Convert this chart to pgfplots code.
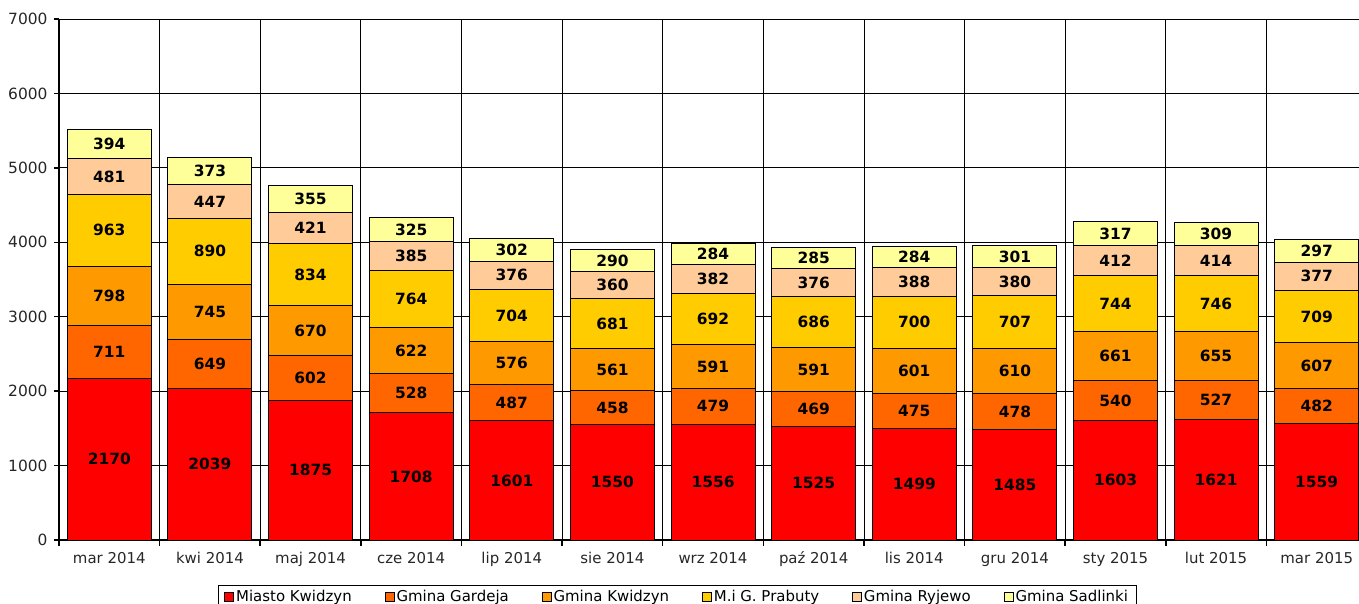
\documentclass[border=0pt]{standalone}
\usepackage{pgfplots}
\pgfplotsset{compat=1.18}
\usepackage{pgfplotstable}
\usepackage{fontspec}
\setmainfont{DejaVu Sans}
\definecolor{cA}{HTML}{FF0000}
\definecolor{cB}{HTML}{FF6600}
\definecolor{cC}{HTML}{FF9900}
\definecolor{cD}{HTML}{FFCC00}
\definecolor{cE}{HTML}{FFCC99}
\definecolor{cF}{HTML}{FFFF99}
\pgfplotstableread{
x A B C D E F
0 2170 711 798 963 481 394
1 2039 649 745 890 447 373
2 1875 602 670 834 421 355
3 1708 528 622 764 385 325
4 1601 487 576 704 376 302
5 1550 458 561 681 360 290
6 1556 479 591 692 382 284
7 1525 469 591 686 376 285
8 1499 475 601 700 388 284
9 1485 478 610 707 380 301
10 1603 540 661 744 412 317
11 1621 527 655 746 414 309
12 1559 482 607 709 377 297
}\data
\begin{document}
\begin{tikzpicture}
\begin{axis}[
  scale only axis, width=1300bp, height=521bp,
  xmin=-0.5, xmax=12.42, ymin=0, ymax=7000,
  ybar stacked, bar width=84bp,
  axis x line*=bottom, axis y line*=left,
  axis line style={-, line width=2.5bp, black},
  xtick={0,...,12},
  xticklabels={mar 2014,kwi 2014,maj 2014,cze 2014,lip 2014,sie 2014,wrz 2014,paź 2014,lis 2014,gru 2014,sty 2015,lut 2015,mar 2015},
  major x tick style={draw=none},
  minor xtick={-0.5,0.5,...,11.5},
  xminorgrids, ymajorgrids,
  grid style={black, line width=0.8bp},
  minor grid style={black, line width=0.8bp},
  ytick={0,1000,...,7000},
  tick align=outside,
  major tick length=5bp, minor tick length=6bp,
  tick style={black, line width=1.5bp},
  yticklabel style={font=\fontsize{15.5}{16}\selectfont, text=black!85, xshift=-3bp},
  xticklabel style={font=\fontsize{15}{16}\selectfont, text=black!85, yshift=-4bp, text height=11bp, text depth=3bp},
  /pgf/number format/assume math mode=true,
  /pgf/number format/set thousands separator={},
  scaled y ticks=false,
  every axis plot/.append style={draw=black, line width=1bp},
  point meta=explicit,
  nodes near coords,
  every node near coord/.append style={font=\bfseries\fontsize{15.5}{15.5}\selectfont, text=black},
  legend columns=6,
  legend style={at={(rel axis cs:0.1223,-0.0864)}, anchor=north west, draw=black, line width=0.8bp,
    font=\fontsize{15}{15.5}\selectfont, inner xsep=6bp, inner ysep=3bp,
    /tikz/every even column/.append style={column sep=31bp}},
  legend cell align=left,
  legend image code/.code={\draw[#1, draw=black, line width=0.8bp] (0bp,-4.5bp) rectangle (9bp,4.5bp);},
]
\addplot[fill=cA] table[x=x,y=A,meta=A]{\data};
\addplot[fill=cB] table[x=x,y=B,meta=B]{\data};
\addplot[fill=cC] table[x=x,y=C,meta=C]{\data};
\addplot[fill=cD] table[x=x,y=D,meta=D]{\data};
\addplot[fill=cE] table[x=x,y=E,meta=E]{\data};
\addplot[fill=cF] table[x=x,y=F,meta=F]{\data};
\legend{Miasto Kwidzyn,Gmina Gardeja,Gmina Kwidzyn,M.i G. Prabuty,Gmina Ryjewo,Gmina Sadlinki}
\coordinate (O) at (rel axis cs:0,0);
\end{axis}
\pgfresetboundingbox
\path[use as bounding box] ([shift={(-59bp,-64bp)}]O) rectangle ([shift={(1300bp,540bp)}]O);
\end{tikzpicture}
\end{document}
